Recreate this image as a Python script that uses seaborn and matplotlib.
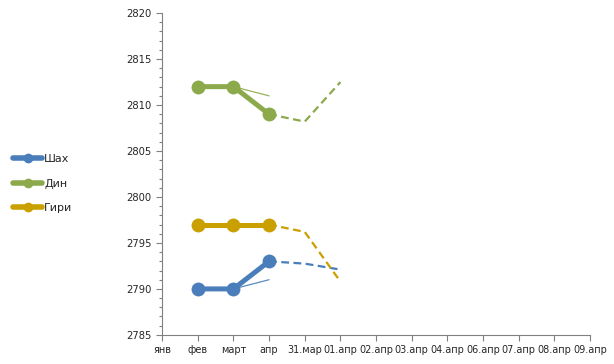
import numpy as np
import pandas as pd
import matplotlib
matplotlib.use('Agg')
import matplotlib.pyplot as plt
import seaborn as sns
from matplotlib.lines import Line2D
from matplotlib.ticker import MultipleLocator

sns.set_style('white')
plt.rcParams['font.family'] = ['DejaVu Sans']

categories = ['янв', 'фев', 'март', 'апр', '31.мар', '01.апр', '02.апр',
              '03.апр', '04.апр', '06.апр', '07.апр', '08.апр', '09.апр']

# main monthly series (фев, март, апр)
main_cats = ['фев', 'март', 'апр']
shah_main = [2790, 2790, 2793]
din_main = [2812, 2812, 2809]
giri_main = [2797, 2797, 2797]

# thin lines
thin_cats = ['фев', 'март', 'апр']
shah_thin = [2790, 2790, 2791]
din_thin = [2812, 2812, 2811]

# dashed daily continuation (апр, 31.мар, 01.апр)
dash_cats = ['апр', '31.мар', '01.апр']
shah_dash = [2793, 2792.75, 2792.1]
din_dash = [2809, 2808.2, 2812.5]
giri_dash = [2797, 2796.2, 2790.8]

names = ['Шах', 'Дин', 'Гири']
colors = {'Шах': '#4A7EBB', 'Дин': '#8CAA4C', 'Гири': '#C9A000'}

pos = {c: i for i, c in enumerate(categories)}

fig = plt.figure(figsize=(6.14, 3.64), dpi=100)
ax = fig.add_axes([0.264, 0.08, 0.697, 0.884])

main = {'Шах': shah_main, 'Дин': din_main, 'Гири': giri_main}
dash = {'Шах': shah_dash, 'Дин': din_dash, 'Гири': giri_dash}
thin = {'Шах': shah_thin, 'Дин': din_thin}

for n in names:
    sns.lineplot(x=[pos[c] for c in dash_cats], y=dash[n], ax=ax,
                 color=colors[n], linewidth=1.6, linestyle=(0, (3.5, 2)))
    sns.lineplot(x=[pos[c] for c in main_cats], y=main[n], ax=ax,
                 color=colors[n], linewidth=3.6, marker='o', markersize=10,
                 markeredgewidth=0)
for n in thin:
    sns.lineplot(x=[pos[c] for c in thin_cats], y=thin[n], ax=ax,
                 color=colors[n], linewidth=0.9, alpha=0.9)

ax.set_xlim(0, len(categories) - 1)
ax.set_ylim(2785, 2820)
ax.set_xticks(range(len(categories)))
ax.set_xticklabels(categories, fontsize=7)
ax.yaxis.set_major_locator(MultipleLocator(5))
ax.yaxis.set_minor_locator(MultipleLocator(1))
ax.tick_params(axis='y', which='major', left=True, length=4, width=0.8,
               color='#808080', labelsize=7.2)
ax.tick_params(axis='y', which='minor', left=True, length=2, width=0.8,
               color='#808080')
ax.tick_params(axis='x', bottom=True, length=4, width=0.8, color='#808080',
               pad=3)
for s in ['top', 'right']:
    ax.spines[s].set_visible(False)
for s in ['left', 'bottom']:
    ax.spines[s].set_color('#808080')
    ax.spines[s].set_linewidth(0.8)

handles = [Line2D([0], [0], color=colors[n], linewidth=4, marker='o',
                  markersize=6) for n in names]
fig.legend(handles, names, loc='center left', bbox_to_anchor=(0.005, 0.495),
           frameon=False, fontsize=8, handlelength=2.6, handletextpad=0.2,
           labelspacing=1.3)

fig.savefig('out.png', dpi=100)
